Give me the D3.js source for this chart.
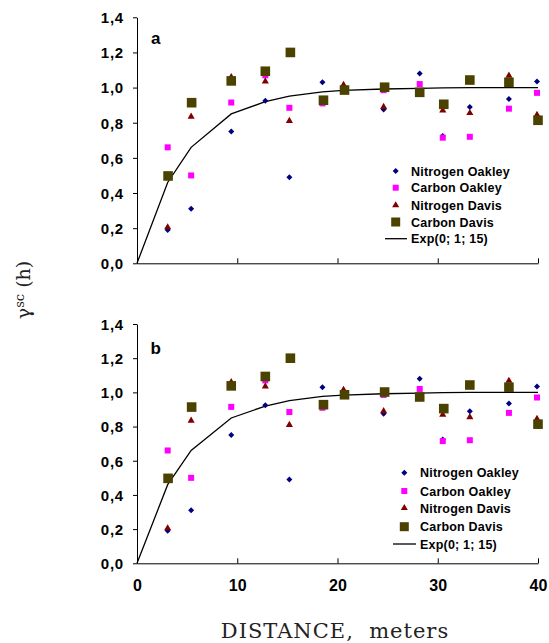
<!DOCTYPE html>
<html><head><meta charset="utf-8">
<script src="https://cdn.jsdelivr.net/npm/d3@7"></script>
<style>
body{margin:0;background:#fff;}
svg{display:block;}
</style></head>
<body>
<svg id="chart" width="549" height="643"></svg>
<script>
// ---- data (panels a and b show the same values) ----
const nitrogenOakleyX = [3.06, 5.4, 9.4, 12.8, 15.2, 18.5, 24.6, 28.2, 30.5, 33.2, 37.1, 39.9];
const nitrogenOakleyY = [0.19, 0.31, 0.75, 0.925, 0.49, 1.03, 0.875, 1.08, 0.725, 0.89, 0.935, 1.035];

const carbonOakleyX = [3.06, 5.4, 9.4, 12.8, 15.2, 18.5, 24.6, 28.2, 30.5, 33.2, 37.1, 39.9];
const carbonOakleyY = [0.66, 0.50, 0.915, 1.07, 0.885, 0.91, 0.985, 1.02, 0.715, 0.72, 0.88, 0.97];

const nitrogenDavisX = [3.06, 5.4, 9.4, 12.8, 15.2, 20.6, 24.6, 30.5, 33.2, 37.1, 39.9];
const nitrogenDavisY = [0.205, 0.835, 1.06, 1.035, 0.81, 1.015, 0.89, 0.87, 0.855, 1.068, 0.845];

const carbonDavisX = [3.1, 5.45, 9.4, 12.8, 15.3, 18.6, 20.7, 24.7, 28.2, 30.6, 33.2, 37.1, 40.0];
const carbonDavisY = [0.497, 0.914, 1.038, 1.093, 1.20, 0.928, 0.986, 1.002, 0.973, 0.905, 1.043, 1.03, 0.814];

const expModelX = [0, 3.06, 5.4, 9.4, 12.8, 15.2, 18.5, 20.6, 24.6, 28.2, 30.5, 33.2, 37.1, 40];
const expModelY = [0, 0.46, 0.66, 0.85, 0.92, 0.952, 0.976, 0.984, 0.992, 0.996, 0.998, 1.0, 1.0, 1.0];

const xTicks = [0, 10, 20, 30, 40];
const yTicks = [0, 0.2, 0.4, 0.6, 0.8, 1.0, 1.2, 1.4];
const legendLabels = ["Nitrogen Oakley", "Carbon Oakley", "Nitrogen Davis", "Carbon Davis", "Exp(0; 1; 15)"];
const panelLabels = ["a", "b"];

// ---- styling ----
const colors = {nO: "#000080", cO: "#ff00ff", nD: "#800000", cD: "#4b4200"};
const sansBold = "Arial, 'Liberation Sans', sans-serif";
const serif = "'DejaVu Serif', serif";

const svg = d3.select("#chart");

const panels = [
  {label: panelLabels[0], yTop: 17.3, yBot: 263.3, showXLabels: false,
   legend: {mx: 395.7, tx: 411, rows: [171, 187.7, 205.3, 222, 238.7], lx0: 385, lx1: 407},
   lab: {x: 151, y: 44}},
  {label: panelLabels[1], yTop: 324, yBot: 563.3, showXLabels: true,
   legend: {mx: 404.3, tx: 420, rows: [472.7, 491, 508, 526.7, 544], lx0: 393, lx1: 416},
   lab: {x: 150.5, y: 354}}
];

const zip = (xs, ys) => xs.map((x, i) => [x, ys[i]]);

panels.forEach(p => {
  const x = d3.scaleLinear().domain([0, 40]).range([137, 538]);
  const y = d3.scaleLinear().domain([0, 1.4]).range([p.yBot, p.yTop]);
  const g = svg.append("g");

  // y axis
  const yAxis = d3.axisLeft(y).tickValues(yTicks).tickSize(4).tickSizeOuter(0)
      .tickFormat(d => d3.format(".1f")(d).replace(".", ","));
  const ya = g.append("g").attr("transform", "translate(137,0)").call(yAxis);
  ya.select(".domain").attr("stroke", "#000");
  ya.selectAll(".tick line").attr("stroke", "#000");
  ya.selectAll(".tick text").attr("x", -13).attr("dy", "0.36em")
    .attr("font-family", sansBold).attr("font-weight", "bold").attr("font-size", 15)
    .attr("letter-spacing", 0.8).attr("fill", "#000");

  // x axis (ticks pointing inward)
  const xAxis = d3.axisBottom(x).tickValues(xTicks).tickSize(-5).tickSizeOuter(0)
      .tickFormat(d => p.showXLabels ? d : "");
  const xa = g.append("g").attr("transform", `translate(0,${p.yBot})`).call(xAxis);
  xa.select(".domain").attr("stroke", "#000");
  xa.selectAll(".tick line").attr("stroke", "#000");
  xa.selectAll(".tick text").attr("y", 22).attr("dy", "0.36em")
    .attr("font-family", sansBold).attr("font-weight", "bold").attr("font-size", 16)
    .attr("fill", "#000");

  // model line
  const line = d3.line().x(d => x(d[0])).y(d => y(d[1]));
  g.append("path").datum(zip(expModelX, expModelY)).attr("d", line)
    .attr("fill", "none").attr("stroke", "#000").attr("stroke-width", 1.3);

  // markers
  const diamond = d3.symbol().type(d3.symbolSquare).size(18);
  const tri = d3.symbol().type(d3.symbolTriangle).size(22);

  g.append("g").selectAll("path").data(zip(nitrogenOakleyX, nitrogenOakleyY)).join("path")
    .attr("d", diamond).attr("transform", d => `translate(${x(d[0])},${y(d[1])}) rotate(45)`)
    .attr("fill", colors.nO);

  g.append("g").selectAll("rect").data(zip(carbonOakleyX, carbonOakleyY)).join("rect")
    .attr("x", d => x(d[0]) - 3).attr("y", d => y(d[1]) - 3).attr("width", 6).attr("height", 6)
    .attr("fill", colors.cO);

  g.append("g").selectAll("path").data(zip(nitrogenDavisX, nitrogenDavisY)).join("path")
    .attr("d", tri).attr("transform", d => `translate(${x(d[0])},${y(d[1])})`)
    .attr("fill", colors.nD);

  g.append("g").selectAll("rect").data(zip(carbonDavisX, carbonDavisY)).join("rect")
    .attr("x", d => x(d[0]) - 4.8).attr("y", d => y(d[1]) - 4.8).attr("width", 9.6).attr("height", 9.6)
    .attr("fill", colors.cD);

  // panel letter
  g.append("text").attr("x", p.lab.x).attr("y", p.lab.y).text(p.label)
    .attr("font-family", sansBold).attr("font-weight", "bold").attr("font-size", 17);

  // legend
  const L = p.legend;
  const lg = g.append("g");
  lg.append("path").attr("d", diamond).attr("transform", `translate(${L.mx},${L.rows[0]}) rotate(45)`).attr("fill", colors.nO);
  lg.append("rect").attr("x", L.mx - 3).attr("y", L.rows[1] - 3).attr("width", 6).attr("height", 6).attr("fill", colors.cO);
  lg.append("path").attr("d", tri).attr("transform", `translate(${L.mx},${L.rows[2]})`).attr("fill", colors.nD);
  lg.append("rect").attr("x", L.mx - 4.5).attr("y", L.rows[3] - 4.5).attr("width", 9).attr("height", 9).attr("fill", colors.cD);
  lg.append("line").attr("x1", L.lx0).attr("x2", L.lx1).attr("y1", L.rows[4]).attr("y2", L.rows[4])
    .attr("stroke", "#000").attr("stroke-width", 1.3);
  lg.selectAll("text").data(legendLabels).join("text")
    .attr("x", L.tx).attr("y", (d, i) => L.rows[i]).attr("dy", "0.36em")
    .attr("font-family", sansBold).attr("font-weight", "bold").attr("font-size", 12.5)
    .attr("letter-spacing", 0.2).text(d => d);
});

// axis titles
const yt = svg.append("text").attr("transform", "translate(30,290) rotate(-90)")
  .attr("text-anchor", "middle").attr("font-family", serif).attr("font-size", 19).attr("fill", "#222");
yt.append("tspan").text("γ");
yt.append("tspan").attr("font-size", 13).attr("dy", -6).text("sc");
yt.append("tspan").attr("dy", 6).text(" (h)");

svg.append("text").attr("x", 335).attr("y", 638).attr("text-anchor", "middle")
  .attr("font-family", serif).attr("font-size", 21).attr("letter-spacing", 1).attr("fill", "#222")
  .text("DISTANCE,  meters").attr("xml:space", "preserve").style("white-space", "pre");
</script>
</body></html>
